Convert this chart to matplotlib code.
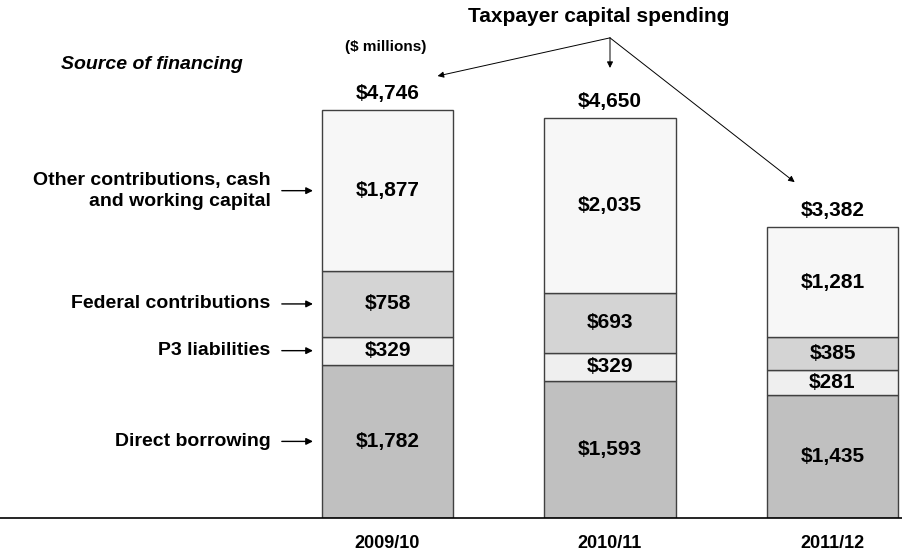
import matplotlib.pyplot as plt
import numpy as np

plt.rcParams["font.family"] = ["Liberation Sans", "DejaVu Sans"]
plt.rcParams["font.weight"] = "bold"

# Capital financing by source ($ millions)
years = ["2009/10", "2010/11", "2011/12"]
direct_borrowing = [1782, 1593, 1435]
p3_liabilities = [329, 329, 281]
federal_contrib = [758, 693, 385]
other_contrib = [1877, 2035, 1281]
totals = [4746, 4650, 3382]

series = [
    ("Direct borrowing", direct_borrowing, "#c0c0c0"),
    ("P3 liabilities", p3_liabilities, "#efefef"),
    ("Federal contributions", federal_contrib, "#d4d4d4"),
    ("Other contributions, cash\nand working capital", other_contrib, "#f7f7f7"),
]

BAR_WIDTH = 0.59

fig = plt.figure(figsize=(9.02, 5.55), dpi=100)
ax = fig.add_axes([0, 37 / 555, 1, 518 / 555])

x = np.arange(len(years))
bottom = np.zeros(len(years))
for name, vals, color in series:
    vals = np.array(vals)
    ax.bar(x, vals, BAR_WIDTH, bottom=bottom, color=color,
           edgecolor="#404040", linewidth=1.0, zorder=2)
    for xi, b, v in zip(x, bottom, vals):
        ax.text(xi, b + v / 2, f"${v:,}", ha="center", va="center",
                fontsize=15, fontweight="bold", zorder=3)
    # category label with arrow pointing at the first bar
    y_mid = bottom[0] + vals[0] / 2
    ax.annotate("", xy=(x[0] - BAR_WIDTH / 2 - 0.04, y_mid),
                xytext=(x[0] - BAR_WIDTH / 2 - 0.18, y_mid),
                arrowprops=dict(arrowstyle="-|>", color="black", lw=1.0,
                                mutation_scale=10, shrinkA=0, shrinkB=0))
    ax.text(x[0] - BAR_WIDTH / 2 - 0.23, y_mid, name, ha="right", va="center",
            fontsize=14, fontweight="bold", linespacing=1.3)
    bottom = bottom + vals

for xi, t in zip(x, totals):
    ax.annotate(f"${t:,}", xy=(xi, t), xytext=(0, 5), textcoords="offset points",
                ha="center", va="bottom", fontsize=15, fontweight="bold")

ax.text(-1.06, 5275, "Source of financing", ha="center", va="center",
        fontsize=14, fontweight="bold", fontstyle="italic")
ax.text(-0.01, 5480, "($ millions)", ha="center", va="center",
        fontsize=11, fontweight="bold")

# Taxpayer capital spending callout with arrows to each total
origin = (1.0, 5585)
ax.text(0.95, 5830, "Taxpayer capital spending", ha="center", va="center",
        fontsize=15, fontweight="bold")
targets = [(0.225, totals[0] + 395), (1.0, totals[1] + 585), (1.83, totals[2] + 525)]
for tx, ty in targets:
    ax.annotate("", xy=(tx, ty), xytext=origin,
                arrowprops=dict(arrowstyle="-|>", color="black", lw=0.7,
                                mutation_scale=9, shrinkA=0, shrinkB=0))

ax.set_xlim(-387.5 / 222.5, (902 - 387.5) / 222.5)
ax.set_ylim(0, 518 / 0.08597)
ax.set_xticks(x)
ax.set_xticklabels(years, fontsize=13, fontweight="bold")
ax.tick_params(axis="x", length=0, pad=12)
ax.set_yticks([])
for side in ["top", "right", "left"]:
    ax.spines[side].set_visible(False)
ax.spines["bottom"].set_linewidth(1.2)
ax.patch.set_alpha(0)

fig.savefig("out.png", dpi=100)
